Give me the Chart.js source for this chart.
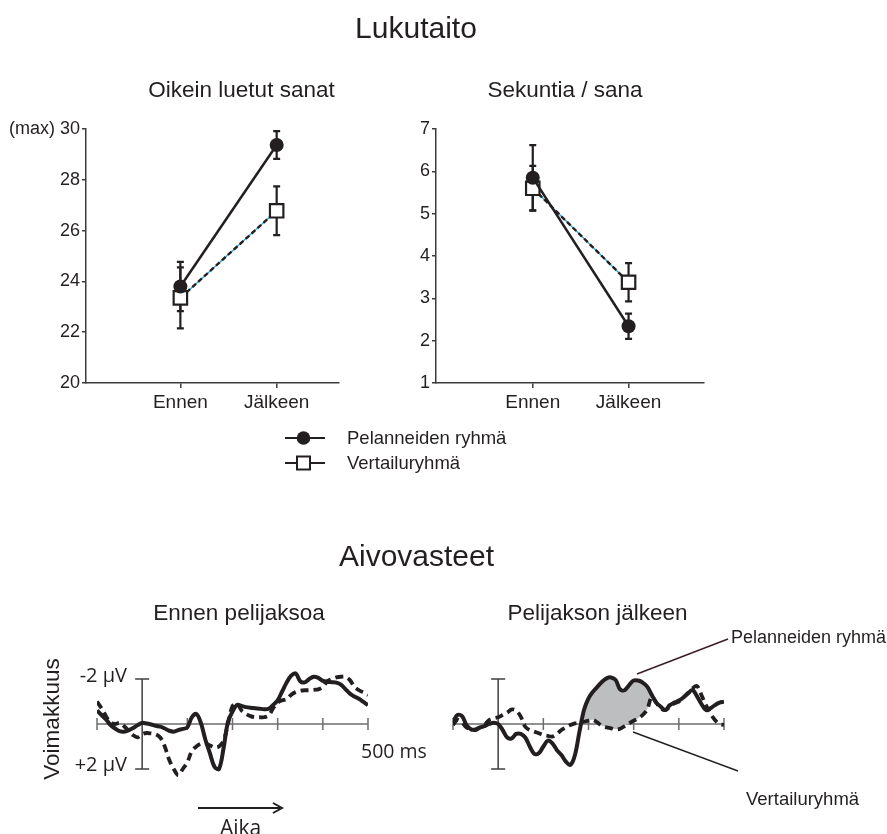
<!DOCTYPE html>
<html><head><meta charset="utf-8">
<script src="https://cdn.jsdelivr.net/npm/chart.js@4.4.1/dist/chart.umd.min.js"></script>
<style>
html,body{margin:0;padding:0;background:#fff;}
#root{position:relative;width:887px;height:834px;overflow:hidden;color:#231f20;}
.t{position:absolute;white-space:nowrap;line-height:1;color:#231f20;}
canvas{position:absolute;}
svg{position:absolute;left:0;top:0;}
</style></head><body><div id="root">
<canvas id="c1" width="350" height="313" style="left:0;top:100px"></canvas>
<canvas id="c2" width="355" height="313" style="left:360px;top:100px"></canvas>
<canvas id="c3" width="291" height="164" style="left:87px;top:642px"></canvas>
<canvas id="c4" width="291" height="164" style="left:443px;top:642px"></canvas>
<svg width="887" height="834">
  <line x1="285" y1="438" x2="325" y2="438" stroke="#231f20" stroke-width="2.2"/>
  <circle cx="303.5" cy="438" r="6.8" fill="#231f20"/>
  <line x1="285" y1="463" x2="325" y2="463" stroke="#231f20" stroke-width="2.2"/>
  <rect x="297" y="456.5" width="13" height="13" fill="#fff" stroke="#231f20" stroke-width="2"/>
  <line x1="637" y1="674" x2="728" y2="639" stroke="#3b1e28" stroke-width="1.5"/>
  <line x1="633" y1="732" x2="738" y2="771" stroke="#231f20" stroke-width="1.5"/>
  <line x1="198" y1="808" x2="280" y2="808" stroke="#231f20" stroke-width="2"/>
  <polyline points="273,803 282,808 273,813" fill="none" stroke="#231f20" stroke-width="2"/>
</svg>
</div>
<script>
const INK = '#231f20';
const AXIS = '#3c3c3e';

// ---- Lukutaito ----
const topCategories = ['Ennen', 'Jälkeen'];
const seriesNames = ['Pelanneiden ryhmä', 'Vertailuryhmä'];

// Oikein luetut sanat
const wordsPlayed = [23.8, 29.37];
const wordsPlayedErr = [0.97, 0.55];
const wordsControl = [23.35, 26.78];
const wordsControlErr = [1.2, 0.96];
const wordsYTicks = [20, 22, 24, 26, 28, 30];
const wordsYTickLabels = ['20', '22', '24', '26', '28', '(max) 30'];

// Sekuntia / sana
const secPlayed = [5.85, 2.34];
const secPlayedErr = [0.77, 0.3];
const secControl = [5.6, 3.38];
const secControlErr = [0.53, 0.45];
const secYTicks = [1, 2, 3, 4, 5, 6, 7];
const secYTickLabels = ['1', '2', '3', '4', '5', '6', '7'];

// ---- Aivovasteet (µV, negative up) ----
const erpTimes = [-100,-90,-80,-70,-60,-50,-40,-30,-20,-10,0,10,20,30,40,50,60,70,80,90,100,110,120,130,140,150,160,170,180,190,200,210,220,230,240,250,260,270,280,290,300,310,320,330,340,350,360,370,380,390,400,410,420,430,440,450,460,470,480,490,500];
const beforePlayed = [-0.6,-0.4,-0.2,0.05,0.2,0.32,0.34,0.28,0.18,0.05,-0.05,-0.02,0.02,0.08,0.12,0.2,0.3,0.34,0.27,0.22,0.15,-0.3,-0.45,-0.05,0.7,1.3,1.9,2.0,1.1,-0.1,-0.55,-0.85,-0.8,-0.75,-0.72,-0.7,-0.68,-0.66,-0.68,-0.85,-1.05,-1.45,-1.85,-2.15,-2.25,-1.9,-1.85,-2.0,-2.1,-2.05,-1.92,-1.88,-1.86,-1.84,-1.75,-1.55,-1.35,-1.22,-1.12,-0.98,-0.84];
const beforeControl = [-1.0,-0.7,-0.35,-0.05,0.0,-0.05,0.1,0.3,0.5,0.59,0.45,0.4,0.42,0.46,0.6,1.0,1.6,2.0,2.27,2.0,1.7,1.2,1.0,0.88,0.86,0.95,1.04,1.0,0.75,0.0,-0.8,-0.9,-0.6,-0.45,-0.35,-0.3,-0.3,-0.3,-0.38,-0.7,-0.95,-1.05,-1.1,-1.3,-1.42,-1.48,-1.5,-1.5,-1.52,-1.54,-1.65,-1.9,-2.0,-2.07,-2.1,-2.1,-1.95,-1.65,-1.5,-1.4,-1.29];
const afterPlayed = [-0.1,-0.4,-0.35,0.05,0.24,0.24,0.15,0.09,0.0,-0.06,0.0,0.27,0.6,0.64,0.44,0.44,0.6,1.0,1.33,1.3,1.0,0.74,0.86,1.16,1.38,1.67,1.82,1.38,0.34,-0.62,-1.14,-1.44,-1.66,-1.88,-2.03,-2.07,-1.96,-1.54,-1.5,-1.73,-1.93,-1.93,-1.84,-1.66,-1.3,-0.95,-0.77,-0.62,-0.84,-0.95,-1.04,-1.18,-1.36,-1.51,-1.24,-0.89,-0.62,-0.7,-0.84,-0.95,-0.99];
const afterControl = [0.04,-0.18,-0.06,0.15,0.24,0.27,0.15,0.04,-0.18,-0.25,-0.3,-0.4,-0.5,-0.65,-0.59,-0.33,0.12,0.27,0.34,0.41,0.49,0.53,0.56,0.44,0.27,0.15,0.04,-0.03,-0.06,-0.1,-0.15,-0.18,-0.06,0.09,0.15,0.19,0.24,0.21,0.09,-0.03,-0.15,-0.25,-0.4,-0.65,-1.2,-0.95,-0.7,-0.62,-0.77,-0.92,-0.99,-1.18,-1.36,-1.58,-1.69,-1.29,-0.84,-0.47,-0.18,0.0,0.04];
const shadeFrom = 180, shadeTo = 350;
const erpTickTimes = [-100, 100, 200, 300, 400, 500];
const erpVoltCaps = [-2, 2];

const errorBarPlugin = {
  id: 'errorBars',
  beforeDatasetsDraw(chart) {
    const {ctx, scales: {x, y}} = chart;
    ctx.save();
    ctx.strokeStyle = INK; ctx.lineWidth = 2.2;
    chart.data.datasets.forEach(ds => {
      if (!ds.errors) return;
      ds.data.forEach((p, i) => {
        const px = x.getPixelForValue(p.x);
        const t = y.getPixelForValue(p.y + ds.errors[i]);
        const b = y.getPixelForValue(p.y - ds.errors[i]);
        ctx.beginPath();
        ctx.moveTo(px, t); ctx.lineTo(px, b);
        ctx.moveTo(px - 3.5, t); ctx.lineTo(px + 3.5, t);
        ctx.moveTo(px - 3.5, b); ctx.lineTo(px + 3.5, b);
        ctx.stroke();
      });
    });
    ctx.restore();
  }
};

function makeTopChart(id, c) {
  const pts = arr => arr.map((v, i) => ({x: i, y: v}));
  const tickFont = {family: 'Liberation Sans', size: 18};
  return new Chart(document.getElementById(id), {
    type: 'line',
    data: {datasets: [
      {label: seriesNames[0], data: pts(c.played), errors: c.playedErr, borderColor: INK, borderWidth: 2.5,
       pointStyle: 'circle', pointRadius: 7, pointBackgroundColor: INK, pointBorderColor: INK, pointBorderWidth: 0},
      {label: seriesNames[1], data: pts(c.control), errors: c.controlErr, borderColor: INK, borderWidth: 2.4, borderDash: [5, 3],
       pointStyle: 'rect', pointRadius: 9.5, pointBackgroundColor: '#fff', pointBorderColor: INK, pointBorderWidth: 2.2},
      {label: seriesNames[1], data: pts(c.control), borderColor: '#29abe2', borderWidth: 1.3, pointRadius: 0}
    ]},
    options: {
      responsive: false, animation: false, devicePixelRatio: 1,
      layout: {padding: {top: 29, right: 10, left: 0, bottom: 0}},
      plugins: {legend: {display: false}, tooltip: {enabled: false}},
      scales: {
        x: {type: 'linear', min: c.xMin, max: c.xMax,
            afterFit: s => { s.height = 30; },
            afterBuildTicks: s => { s.ticks = topCategories.map((_, i) => ({value: i})); },
            ticks: {callback: (v, i) => topCategories[i], color: INK, font: {family: 'Liberation Sans', size: 19}, padding: 3, maxRotation: 0, autoSkip: false},
            grid: {drawOnChartArea: false, drawTicks: true, tickLength: 5, color: AXIS, lineWidth: 1.5},
            border: {display: true, color: AXIS, width: 1.5}},
        y: {type: 'linear', min: c.yTicks[0], max: c.yTicks[c.yTicks.length - 1],
            afterFit: s => { s.width = c.axisW; },
            afterBuildTicks: s => { s.ticks = c.yTicks.map(v => ({value: v})); },
            ticks: {callback: (v, i) => c.yTickLabels[i], color: INK, font: tickFont, padding: 2, autoSkip: false},
            grid: {drawOnChartArea: false, drawTicks: true, tickLength: 4, color: AXIS, lineWidth: 1.5},
            border: {display: true, color: AXIS, width: 1.5}}
      }
    },
    plugins: [errorBarPlugin]
  });
}

makeTopChart('c1', {played: wordsPlayed, playedErr: wordsPlayedErr, control: wordsControl, controlErr: wordsControlErr,
  yTicks: wordsYTicks, yTickLabels: wordsYTickLabels, xMin: -0.98, xMax: 1.64, axisW: 86});
makeTopChart('c2', {played: secPlayed, playedErr: secPlayedErr, control: secControl, controlErr: secControlErr,
  yTicks: secYTicks, yTickLabels: secYTickLabels, xMin: -1.01, xMax: 1.78, axisW: 76});

const erpAxesPlugin = {
  id: 'erpAxes',
  beforeDatasetsDraw(chart) {
    const {ctx, scales: {x, y}} = chart;
    const y0 = y.getPixelForValue(0);
    const x0 = x.getPixelForValue(0);
    ctx.save();
    ctx.lineWidth = 1.5;
    ctx.strokeStyle = '#6d6e71';
    ctx.beginPath();
    ctx.moveTo(x.getPixelForValue(erpTimes[0]), y0);
    ctx.lineTo(x.getPixelForValue(erpTimes[erpTimes.length - 1]), y0);
    erpTickTimes.forEach(t => {
      const px = x.getPixelForValue(t);
      ctx.moveTo(px, y0 - 6); ctx.lineTo(px, y0 + 6);
    });
    ctx.stroke();
    ctx.strokeStyle = '#414042';
    ctx.beginPath();
    const yt = y.getPixelForValue(erpVoltCaps[0]), yb = y.getPixelForValue(erpVoltCaps[1]);
    ctx.moveTo(x0, yt); ctx.lineTo(x0, yb);
    ctx.moveTo(x0 - 7, yt); ctx.lineTo(x0 + 7, yt);
    ctx.moveTo(x0 - 7, yb); ctx.lineTo(x0 + 7, yb);
    ctx.stroke();
    ctx.restore();
  }
};

function makeErp(id, played, control, shade) {
  const pts = arr => arr.map((v, i) => ({x: erpTimes[i], y: v}));
  const datasets = [
    {label: seriesNames[0], data: pts(played), borderColor: INK, borderWidth: 4, pointRadius: 0, tension: 0.35, order: 1},
    {label: seriesNames[1], data: pts(control), borderColor: INK, borderWidth: 3.8, borderDash: [8, 5], pointRadius: 0, tension: 0.35, order: 2}
  ];
  if (shade) {
    datasets.push({label: 'ero', data: played.map((v, i) => ({x: erpTimes[i], y: (erpTimes[i] >= shadeFrom && erpTimes[i] <= shadeTo) ? v : null})),
      borderColor: 'rgba(0,0,0,0)', borderWidth: 1, pointRadius: 0, tension: 0.35, spanGaps: false, order: 3,
      fill: {target: 1, above: '#bcbec0', below: 'rgba(0,0,0,0)'}});
  }
  return new Chart(document.getElementById(id), {
    type: 'line',
    data: {datasets},
    options: {
      responsive: false, animation: false, devicePixelRatio: 1,
      layout: {padding: 10},
      plugins: {legend: {display: false}, tooltip: {enabled: false}},
      scales: {
        x: {type: 'linear', min: -100, max: 500, display: false},
        y: {type: 'linear', min: -3.2, max: 3.2, reverse: true, display: false}
      }
    },
    plugins: [erpAxesPlugin]
  });
}
makeErp('c3', beforePlayed, beforeControl, false);
makeErp('c4', afterPlayed, afterControl, true);

// ---- texts ----
const FONTS = {
  lib: {family: '"Liberation Sans", Arial, sans-serif', base: 0.8465},
  open: {family: '"Open Sans", sans-serif', base: 0.888}
};
const root = document.getElementById('root');
function addText(txt, x, base, size, align, font) {
  const f = FONTS[font || 'lib'];
  const el = document.createElement('div');
  el.className = 't';
  el.textContent = txt;
  el.style.fontFamily = f.family;
  el.style.fontSize = size + 'px';
  el.style.top = (base - f.base * size) + 'px';
  el.style.left = x + 'px';
  if (align === 'center') el.style.transform = 'translateX(-50%)';
  if (align === 'right') el.style.transform = 'translateX(-100%)';
  root.appendChild(el);
  return el;
}
addText('Lukutaito', 416, 38.5, 30, 'center');
addText('Oikein luetut sanat', 241.5, 98, 22.5, 'center');
addText('Sekuntia / sana', 565, 98, 22.5, 'center');
addText(seriesNames[0], 347, 445, 18.5, 'left');
addText(seriesNames[1], 347, 469.5, 18.5, 'left');
addText('Aivovasteet', 416.5, 566, 30, 'center');
addText('Ennen pelijaksoa', 239, 621.5, 22.5, 'center');
addText('Pelijakson jälkeen', 597.5, 621.5, 22.5, 'center');
addText('-2 µV', 127, 683, 20, 'right', 'open');
addText('+2 µV', 127, 772, 20, 'right', 'open');
addText('500 ms', 361, 758, 19.5, 'left', 'open');
addText('Aika', 220, 836, 21, 'left', 'open');
addText(seriesNames[0], 731, 643, 18, 'left');
addText(seriesNames[1], 746, 806, 18.5, 'left');
const v = document.createElement('div');
v.className = 't';
v.textContent = 'Voimakkuus';
v.style.fontFamily = FONTS.lib.family;
v.style.fontSize = '22.5px';
v.style.left = '52px';
v.style.top = '719px';
v.style.transform = 'translate(-50%,-50%) rotate(-90deg)';
root.appendChild(v);
</script>
</body></html>
